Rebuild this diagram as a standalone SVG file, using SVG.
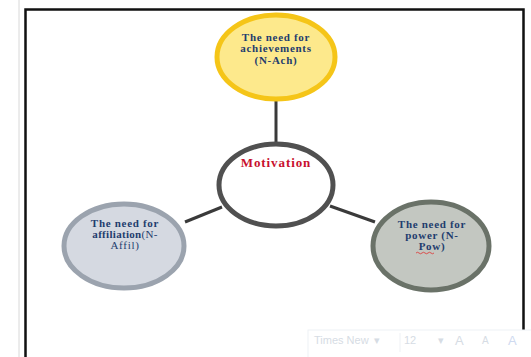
<svg xmlns="http://www.w3.org/2000/svg" width="531" height="357" viewBox="0 0 531 357">
<style>
.t{font-family:"Liberation Serif","Times New Roman",serif;font-weight:bold;font-size:11px;letter-spacing:0.7px;fill:#1f3d6e;text-anchor:middle}
.n{font-weight:normal}
.conn{stroke:#3a3a3a;stroke-width:3;fill:none}
.tb{font-family:"Liberation Sans",Arial,sans-serif;font-size:11px;fill:#d6dce4}
</style>
<rect width="531" height="357" fill="#fff"/>
<line x1="19" y1="0" x2="19" y2="357" stroke="#d8d8d8" stroke-width="1"/>
<path d="M25.5 357 V9.5 H523.5 V357" fill="none" stroke="#111" stroke-width="2.5"/>
<g id="connectors">
<line class="conn" x1="276" y1="100" x2="276" y2="144"/>
<line class="conn" x1="185" y1="222" x2="222" y2="207"/>
<line class="conn" x1="330" y1="206" x2="375" y2="222"/>
</g>
<g id="n-ach">
<ellipse cx="276" cy="57" rx="59" ry="42" fill="#fde98c" stroke="#f5c518" stroke-width="5"/>
<text class="t" x="276" y="41">The need for</text>
<text class="t" x="276" y="52">achievements</text>
<text class="t" x="276" y="64">(N-Ach)</text>
</g>
<g id="motivation">
<ellipse cx="276" cy="185" rx="57" ry="41" fill="#fff" stroke="#505050" stroke-width="5"/>
<text class="t" x="276" y="167" style="fill:#c8102e;font-size:13px;letter-spacing:0.9px">Motivation</text>
</g>
<g id="n-affil">
<ellipse cx="124" cy="246" rx="60" ry="42" fill="#d5d9e1" stroke="#9ba3ae" stroke-width="5"/>
<text class="t" x="125" y="227">The need for</text>
<text class="t" x="125" y="238" style="letter-spacing:0.3px">affiliation<tspan class="n">(N-</tspan></text>
<text class="t n" x="125" y="249">Affil)</text>
</g>
<g id="n-pow">
<ellipse cx="431" cy="246" rx="58" ry="44" fill="#c3c7c1" stroke="#6a7268" stroke-width="5"/>
<text class="t" x="432" y="228">The need for</text>
<text class="t" x="432" y="239">power (N-</text>
<text class="t" x="432" y="250">Pow)</text>
<path d="M416 253 q1.5 -1.5 3 0 t3 0 t3 0 t3 0 t3 0 t3 0" fill="none" stroke="#e03030" stroke-width="0.8"/>
</g>
<g id="toolbar">
<rect x="308" y="330" width="230" height="30" fill="#fff" stroke="#eef1f5" stroke-width="1"/>
<text class="tb" x="314" y="344">Times New</text>
<text class="tb" x="374" y="344">▾</text>
<line x1="400" y1="333" x2="400" y2="352" stroke="#eef1f5"/>
<text class="tb" x="404" y="344">12</text>
<text class="tb" x="438" y="344">▾</text>
<text class="tb" x="455" y="345" style="font-size:13px">A</text>
<text class="tb" x="482" y="344" style="font-size:10px">A</text>
<text class="tb" x="508" y="345" style="font-size:13px;fill:#cfdaf0">A</text>
</g>
</svg>
